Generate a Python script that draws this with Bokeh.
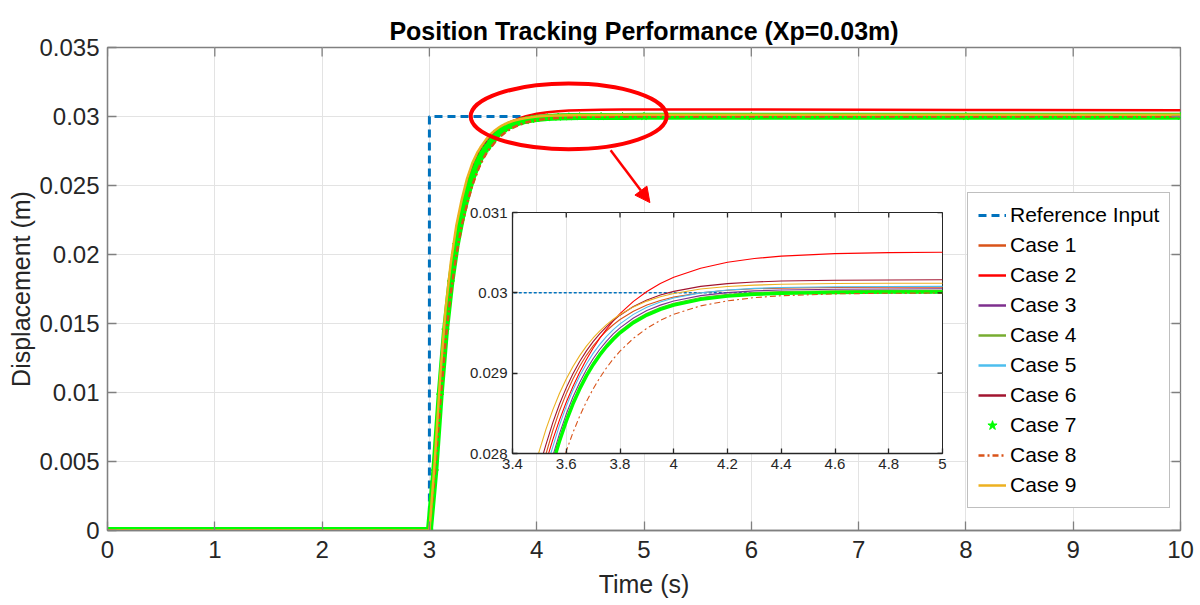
import math
from bokeh.plotting import figure
from bokeh.models import (Range1d, FixedTicker, NumeralTickFormatter, Legend,
                          LegendItem, Arrow, NormalHead, GridBox)
from bokeh.embed import file_html
from bokeh.resources import INLINE

# ---------------- data ----------------
TIME = [0, 3.0, 3.05, 3.1, 3.15, 3.2, 3.25, 3.3, 3.35, 3.4, 3.45,
        3.475, 3.5, 3.525, 3.55, 3.575, 3.6, 3.625, 3.65, 3.675, 3.7,
        3.725, 3.75, 3.775, 3.8, 3.85, 3.9, 3.95, 4.0, 4.1, 4.2,
        4.3, 4.4, 4.6, 4.8, 5.0, 6.0, 8.0, 10.0]

REF_TIME = [0, 3, 3, 10]
REF_VALUE = [0, 0, 0.03, 0.03]

CASE_1 = [0, 0, 0.00468, 0.01048, 0.01528, 0.01877, 0.02145, 0.02336, 0.02497, 0.02615, 0.02708,
          0.02744, 0.02773, 0.0280, 0.028286, 0.028533, 0.028745, 0.028928, 0.029086, 0.029222, 0.02934,
          0.029441, 0.029528, 0.029603, 0.029668, 0.029771, 0.029848, 0.029905, 0.029947, 0.030002, 0.030033,
          0.03005, 0.030059, 0.030067, 0.03007, 0.03007, 0.03007, 0.03007, 0.03007]
CASE_2 = [0, 0, 0.00458, 0.0103, 0.01507, 0.01856, 0.02125, 0.02318, 0.02479, 0.0260, 0.02696,
          0.02734, 0.02765, 0.0279, 0.028172, 0.028418, 0.028638, 0.028835, 0.029011, 0.029169, 0.02931,
          0.029436, 0.029549, 0.02965, 0.02974, 0.029894, 0.030017, 0.030115, 0.030193, 0.030307, 0.03038,
          0.030427, 0.030457, 0.030488, 0.030501, 0.030506, 0.0305, 0.03048, 0.03046]
CASE_3 = [0, 0, 0.00438, 0.00994, 0.01466, 0.01816, 0.02086, 0.02284, 0.02444, 0.02571, 0.0267,
          0.02709, 0.02744, 0.02772, 0.02797, 0.028247, 0.028491, 0.028703, 0.028885, 0.029043, 0.02918,
          0.029298, 0.0294, 0.029488, 0.029564, 0.029687, 0.029779, 0.029847, 0.029898, 0.029965, 0.030003,
          0.030024, 0.030035, 0.030045, 0.030048, 0.03005, 0.03005, 0.03005, 0.03005]
CASE_4 = [0, 0, 0.0044, 0.0099, 0.0146, 0.0181, 0.0208, 0.0228, 0.0244, 0.0257, 0.0267,
          0.02705, 0.0274, 0.0277, 0.02792, 0.02818, 0.02843, 0.028645, 0.02883, 0.028992, 0.029132,
          0.029253, 0.029358, 0.029448, 0.029527, 0.029652, 0.029746, 0.029817, 0.029871, 0.029941, 0.029981,
          0.030003, 0.030016, 0.030026, 0.03003, 0.03003, 0.03003, 0.03003, 0.03003]
CASE_5 = [0, 0, 0.00448, 0.01013, 0.01488, 0.01837, 0.02106, 0.02302, 0.02462, 0.02586, 0.02684,
          0.02722, 0.02755, 0.02781, 0.028083, 0.028354, 0.028587, 0.02879, 0.028964, 0.029115, 0.029246,
          0.029359, 0.029457, 0.029541, 0.029614, 0.029732, 0.02982, 0.029885, 0.029935, 0.029999, 0.030035,
          0.030055, 0.030066, 0.030076, 0.030079, 0.03008, 0.03008, 0.03008, 0.03008]
CASE_6 = [0, 0, 0.0048, 0.01069, 0.01552, 0.0190, 0.02168, 0.02356, 0.02515, 0.02631, 0.02721,
          0.02756, 0.02783, 0.028117, 0.028384, 0.028616, 0.028817, 0.028993, 0.029145, 0.029278, 0.029393,
          0.029493, 0.02958, 0.029656, 0.029722, 0.029829, 0.02991, 0.029972, 0.030018, 0.03008, 0.030115,
          0.030135, 0.030147, 0.030157, 0.03016, 0.030162, 0.03016, 0.03016, 0.03016]
CASE_7 = [0, 0, 0.0043, 0.0098, 0.0145, 0.0180, 0.0207, 0.0227, 0.0243, 0.0256, 0.0266,
          0.0270, 0.02735, 0.02765, 0.02788, 0.028155, 0.028403, 0.028619, 0.028804, 0.028966, 0.029106,
          0.029227, 0.029332, 0.029422, 0.029502, 0.029628, 0.029723, 0.029795, 0.029849, 0.029919, 0.029959,
          0.029981, 0.029994, 0.030005, 0.030009, 0.03001, 0.03001, 0.03001, 0.03001]
CASE_8 = [0, 0, 0.00402, 0.00915, 0.01371, 0.01723, 0.01992, 0.02205, 0.02363, 0.02502, 0.02606,
          0.02653, 0.02692, 0.02726, 0.02755, 0.02779, 0.02803, 0.028261, 0.028465, 0.028645, 0.028804,
          0.028944, 0.029068, 0.029178, 0.029274, 0.029434, 0.029559, 0.029657, 0.029733, 0.029838, 0.0299,
          0.02994, 0.029964, 0.029987, 0.029995, 0.029998, 0.03, 0.03, 0.03]
CASE_9 = [0, 0, 0.00502, 0.01109, 0.01597, 0.01944, 0.02206, 0.02394, 0.02548, 0.02662, 0.02744,
          0.02775, 0.028035, 0.028307, 0.028543, 0.028749, 0.028927, 0.029083, 0.029218, 0.029336, 0.029438,
          0.029527, 0.029604, 0.029671, 0.02973, 0.029825, 0.029897, 0.029951, 0.029992, 0.030047, 0.030078,
          0.030096, 0.030106, 0.030116, 0.030119, 0.03012, 0.03012, 0.03012, 0.03012]

CASES = [CASE_1, CASE_2, CASE_3, CASE_4, CASE_5, CASE_6, CASE_7, CASE_8, CASE_9]
CASE_LABELS = ["Case 1", "Case 2", "Case 3", "Case 4", "Case 5", "Case 6", "Case 7", "Case 8", "Case 9"]
REF_LABEL = "Reference Input"

X_TICKS = [0, 1, 2, 3, 4, 5, 6, 7, 8, 9, 10]
Y_TICKS = [0, 0.005, 0.01, 0.015, 0.02, 0.025, 0.03, 0.035]
INSET_X_TICKS = [3.4, 3.6, 3.8, 4.0, 4.2, 4.4, 4.6, 4.8, 5.0]
INSET_Y_TICKS = [0.028, 0.029, 0.030, 0.031]

# ---------------- styles / layout ----------------
FONT = "Liberation Sans"
CASE_COLORS = ["#D95319", "#FF0000", "#7E2F8E", "#77AC30", "#4DBEEE", "#A2142F",
               "#00FF00", "#D95319", "#EDB120"]
CASE_DASH = ["solid"] * 7 + ["6 3 2 3", "solid"]
REF_COLOR = "#0072BD"
AX_COLOR = "#808080"
TXT_COLOR = "#262626"
GRID_COLOR = "#E3E3E3"

W, H = 1196, 603
# borders shared by both figures (grid aligns plot frames)
B_LEFT, B_TOP, B_RIGHT, B_BOTTOM = 107, 47, 16, 73
# inset frame size and position of its frame (page pixels)
INS_FW, INS_FH = 430, 241
INS_LEFT, INS_TOP = 512, 212


def style_axis(ax, ticks, fmt, size, standoff, tick_len, line_color):
    ax.ticker = FixedTicker(ticks=ticks)
    ax.formatter = NumeralTickFormatter(format=fmt)
    ax.major_tick_in = tick_len
    ax.major_tick_out = 0
    ax.minor_tick_line_color = None
    ax.axis_line_color = line_color
    ax.major_tick_line_color = line_color
    ax.axis_line_width = 1.3
    ax.major_tick_line_width = 1.3
    ax.major_label_text_font = FONT
    ax.major_label_text_color = TXT_COLOR
    ax.major_label_text_font_size = size
    ax.major_label_standoff = standoff


def box_ticks(fig, xr, yr, xticks, yticks, length, color):
    # inward tick marks on the top and right sides of the box
    fig.scatter(xticks, [yr[1]] * len(xticks), marker="dash", angle=math.pi / 2,
                size=2 * length, line_color=color, line_width=1.3)
    fig.scatter([xr[1]] * len(yticks), yticks, marker="dash", angle=0,
                size=2 * length, line_color=color, line_width=1.3)


# ---------------- main figure ----------------
MX, MY = (0, 10), (0, 0.035)
p = figure(width=W, height=H, x_range=Range1d(*MX), y_range=Range1d(*MY),
           output_backend="svg", toolbar_location=None,
           min_border_left=B_LEFT, min_border_right=B_RIGHT,
           min_border_top=B_TOP, min_border_bottom=B_BOTTOM)
p.background_fill_color = "white"
p.border_fill_color = "white"
p.outline_line_color = AX_COLOR
p.outline_line_width = 1.3

p.title.text = "Position Tracking Performance (Xp=0.03m)"
p.title.align = "center"
p.title.text_font = FONT
p.title.text_font_size = "25px"
p.title.text_font_style = "bold"
p.title.text_color = "#000000"
p.title.standoff = 6

style_axis(p.xaxis[0], X_TICKS, "0", "24px", 10, 9, AX_COLOR)
style_axis(p.yaxis[0], Y_TICKS, "0.[000]", "24px", 8, 9, AX_COLOR)
p.xaxis[0].axis_label = "Time (s)"
p.yaxis[0].axis_label = "Displacement (m)"
for ax in (p.xaxis[0], p.yaxis[0]):
    ax.axis_label_text_font = FONT
    ax.axis_label_text_font_size = "25px"
    ax.axis_label_text_font_style = "normal"
    ax.axis_label_text_color = TXT_COLOR
p.xaxis[0].axis_label_standoff = 9
p.yaxis[0].axis_label_standoff = 1

p.xgrid.ticker = FixedTicker(ticks=X_TICKS)
p.ygrid.ticker = FixedTicker(ticks=Y_TICKS)
p.xgrid.grid_line_color = GRID_COLOR
p.ygrid.grid_line_color = GRID_COLOR

r_ref = p.line(REF_TIME, REF_VALUE, line_color=REF_COLOR, line_width=3, line_dash="8 5")
renderers = []
for i, vals in enumerate(CASES):
    if i == 6:
        p.line(TIME, vals, line_color=CASE_COLORS[i], line_width=7)
        r = p.scatter(TIME, vals, marker="star", size=8, fill_color=CASE_COLORS[i],
                      line_color=CASE_COLORS[i])
    else:
        r = p.line(TIME, vals, line_color=CASE_COLORS[i], line_width=2.5, line_dash=CASE_DASH[i])
    renderers.append(r)

box_ticks(p, MX, MY, X_TICKS, Y_TICKS, 9, AX_COLOR)

# annotation: ellipse + arrow
ELL_X, ELL_Y, ELL_W, ELL_H = 4.298, 0.03001, 1.826, 0.00476
p.ellipse(x=[ELL_X], y=[ELL_Y], width=ELL_W, height=ELL_H, fill_alpha=0,
          line_color="#FF0000", line_width=4)
p.add_layout(Arrow(end=NormalHead(size=15, fill_color="#FF0000", line_color="#FF0000"),
                   x_start=4.689, y_start=0.02756, x_end=5.055, y_end=0.02376,
                   line_color="#FF0000", line_width=2.5))

items = [LegendItem(label=REF_LABEL, renderers=[r_ref])]
for lab, r in zip(CASE_LABELS, renderers):
    items.append(LegendItem(label=lab, renderers=[r]))
legend = Legend(items=items, location=(860, 22), orientation="vertical",
                border_line_color=AX_COLOR, border_line_width=1.3,
                background_fill_color="white", background_fill_alpha=1,
                padding=10, spacing=6, margin=0,
                glyph_width=28, glyph_height=24, label_height=24, label_standoff=4,
                label_text_font=FONT, label_text_font_size="21px", label_text_color="#000000")
p.add_layout(legend)

# ---------------- inset figure (overlaid in the same grid cell) ----------------
IX, IY = (3.4, 5), (0.028, 0.031)
ins = figure(width=INS_FW + B_LEFT + B_RIGHT, height=INS_FH + B_TOP + B_BOTTOM,
             x_range=Range1d(*IX), y_range=Range1d(*IY),
             output_backend="svg", toolbar_location=None,
             min_border_left=B_LEFT, min_border_right=B_RIGHT,
             min_border_top=B_TOP, min_border_bottom=B_BOTTOM,
             margin=(INS_TOP - B_TOP, 0, 0, INS_LEFT - B_LEFT))
ins.border_fill_alpha = 0
ins.border_fill_color = None
ins.background_fill_color = "white"
ins.outline_line_color = "#262626"
ins.outline_line_width = 1
style_axis(ins.xaxis[0], INSET_X_TICKS, "0.[0]", "15px", 5, 5, "#262626")
style_axis(ins.yaxis[0], INSET_Y_TICKS, "0.[000]", "15px", 5, 5, "#262626")
ins.xgrid.ticker = FixedTicker(ticks=INSET_X_TICKS)
ins.ygrid.ticker = FixedTicker(ticks=INSET_Y_TICKS)
ins.xgrid.grid_line_color = GRID_COLOR
ins.ygrid.grid_line_color = GRID_COLOR

ins.line(REF_TIME, REF_VALUE, line_color=REF_COLOR, line_width=1.5, line_dash="3 2")
for i, vals in enumerate(CASES):
    w = 3.5 if i == 6 else 1.1
    ins.line(TIME, vals, line_color=CASE_COLORS[i], line_width=w, line_dash=CASE_DASH[i])
box_ticks(ins, IX, IY, INSET_X_TICKS, INSET_Y_TICKS, 5, "#262626")

layout = GridBox(children=[(p, 0, 0), (ins, 0, 0)])

open("out.html", "w").write(file_html(layout, INLINE))
